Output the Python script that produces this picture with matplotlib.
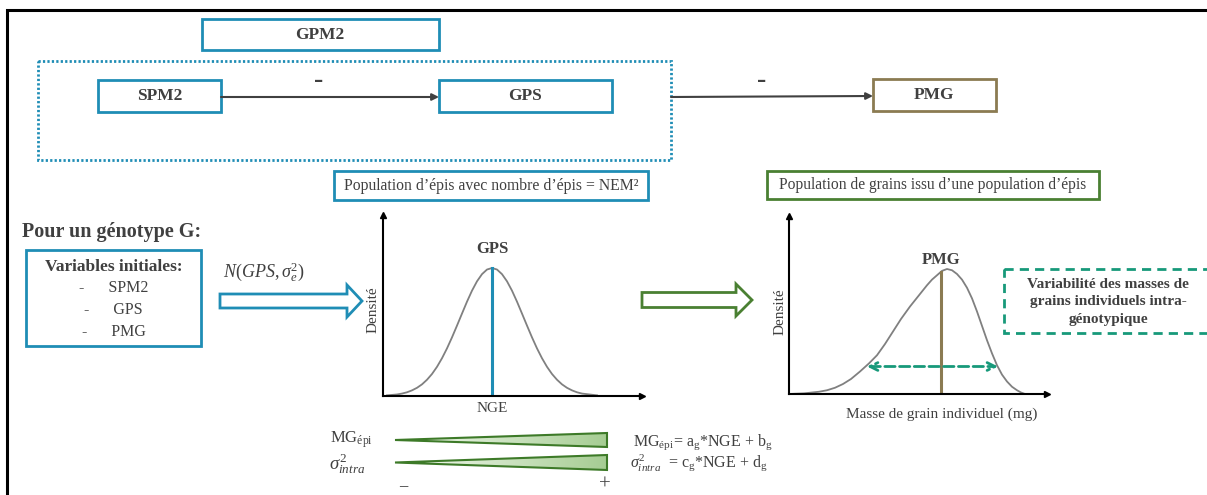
import matplotlib.pyplot as plt
import matplotlib.patches as patches
import matplotlib.colors as mcolors
import numpy as np

plt.rcParams['font.family'] = ['Liberation Serif', 'DejaVu Serif']
plt.rcParams['mathtext.fontset'] = 'custom'
plt.rcParams['mathtext.rm'] = 'Liberation Serif'
plt.rcParams['mathtext.it'] = 'Liberation Serif:italic'
plt.rcParams['mathtext.bf'] = 'Liberation Serif:bold'

# ---- data ----
# normal density of the number of grains per ear (NGE)
nge = [0.4, 1.4, 1.9, 2.4, 2.9, 3.4, 3.9, 4.4, 4.9, 5.4, 5.9, 6.4, 6.9, 7.4, 7.9, 8.4,
       8.9, 9.4, 9.9, 10.4, 10.9, 11.4, 11.9, 12.4, 12.9, 13.4, 13.9, 14.4, 14.9,
       15.4, 15.9, 16.4, 16.9, 17.4, 17.9, 18.4, 18.9, 19.4, 19.9, 21.4]
nge_density = [0.005, 0.012, 0.019, 0.029, 0.044, 0.064, 0.091, 0.127, 0.172, 0.228,
               0.295, 0.372, 0.458, 0.550, 0.644, 0.737, 0.823, 0.896, 0.952, 0.988,
               1.0, 0.988, 0.952, 0.896, 0.823, 0.737, 0.644, 0.550, 0.458, 0.372,
               0.295, 0.228, 0.172, 0.127, 0.091, 0.064, 0.044, 0.029, 0.019, 0.005]
gps_mean = 10.9

# skewed density of the individual grain mass
grain_mass = [0.0, 1.5, 3.0, 3.8, 4.6, 5.4, 6.2, 7.1, 8.0, 8.8, 9.6, 10.4, 11.2, 12.1,
              13.0, 13.8, 14.3, 14.8, 15.3, 15.8, 16.3, 16.8, 17.3, 17.8, 18.3, 18.8,
              19.3, 19.8, 20.3, 20.8, 21.3, 21.8, 22.3, 22.8, 23.2, 23.6]
grain_density = [0.0, 0.005, 0.018, 0.03, 0.05, 0.08, 0.12, 0.18, 0.245, 0.31, 0.40,
                 0.50, 0.60, 0.70, 0.79, 0.87, 0.915, 0.95, 0.985, 1.0, 0.99, 0.96,
                 0.915, 0.85, 0.765, 0.66, 0.545, 0.43, 0.325, 0.23, 0.155, 0.10,
                 0.058, 0.03, 0.012, 0.0]
pmg_mean = 15.2
pmg_top = 0.976
spread = [7.8, 20.9]
spread_level = 0.22

top_boxes = ['GPM2', 'SPM2', 'GPS', 'PMG']
initial_vars = ['SPM2', 'GPS', 'PMG']
variability_text = 'Variabilité des masses de\ngrains individuels intra-\ngénotypique'

# ---- styles ----
W, H = 1207, 495
BLUE = '#1f8db5'
GREEN = '#4a8032'
TEAL = '#17997a'
BROWN = '#8b7b52'
TXT = '#404040'

fig = plt.figure(figsize=(W / 100, H / 100), dpi=100)
ax = fig.add_axes([0, 0, 1, 1])
ax.axis('off')


def box(x0, y0, x1, y1, color, **kw):
    r = patches.Rectangle((x0, y0), x1 - x0, y1 - y0, fill=False, ec=color, lw=2, **kw)
    ax.add_patch(r)
    return r


# outer frame (top and left only visible)
ax.plot([7, 7, W], [H, 10, 10], color='black', lw=2.2, solid_joinstyle='miter')

# top schema
box(38, 61, 671, 160, BLUE, ls=(0, (0.8, 0.8)))
box(202, 19, 439, 50, BLUE)
box(98, 80, 221, 112, BLUE)
box(439, 80, 612, 112, BLUE)
box(873, 79, 996, 111, BROWN)
for label, cx, cy in zip(top_boxes, [320, 160, 525, 934], [35, 96, 96, 95]):
    ax.text(cx, cy, label, ha='center', va='center', fontsize=12.5,
            fontweight='bold', color=TXT)

arrow_kw = dict(arrowstyle='-|>', color=TXT, lw=1.5, mutation_scale=10,
                shrinkA=0, shrinkB=0)
ax.annotate('', xy=(439, 97), xytext=(221, 97), arrowprops=arrow_kw)
ax.annotate('', xy=(873, 96), xytext=(671, 97), arrowprops=arrow_kw)
for mx in (319, 762):
    ax.text(mx, 80, '-', ha='center', va='center', fontsize=20,
            fontweight='bold', color=TXT)

# left block
ax.text(22, 232, 'Pour un génotype G:', ha='left', va='center', fontsize=14.5,
        fontweight='bold', color=TXT)
box(26, 250, 201, 346, BLUE)
ax.text(113.5, 267, 'Variables initiales:', ha='center', va='center', fontsize=12.5,
        fontweight='bold', color=TXT)
for i, name in enumerate(initial_vars):
    ax.text(113.5, 288 + 22 * i, '-      ' + name, ha='center', va='center',
            fontsize=11.5, color=TXT)

ax.text(223, 272, r'$N(GPS,\sigma_e^2)$', ha='left', va='center', fontsize=13,
        color=TXT)
ax.add_patch(patches.FancyArrow(220, 301, 142, 0, width=14, head_width=32,
                                head_length=15, length_includes_head=True,
                                fc='white', ec=BLUE, lw=2))
ax.add_patch(patches.FancyArrow(642, 300, 110, 0, width=15, head_width=32,
                                head_length=16, length_includes_head=True,
                                fc='white', ec=GREEN, lw=2))

# title boxes above the densities
box(334, 171, 648, 200, BLUE)
ax.text(491, 186, 'Population d’épis avec nombre d’épis = NEM²', ha='center',
        va='center', fontsize=11.3, color=TXT)
box(767, 171, 1099, 199, GREEN)
ax.text(933, 185, 'Population de grains issu d’une population d’épis', ha='center',
        va='center', fontsize=11.2, color=TXT)

# variability box
box(1004, 269, 1260, 333, TEAL, ls=(0, (3.3, 2.2)))
ax.text(1108, 302, variability_text, ha='center', va='center', fontsize=11,
        fontweight='bold', color=TXT, linespacing=1.45)

# gradient wedges
cmap = mcolors.LinearSegmentedColormap.from_list('wedge', ['#f7fbf4', '#a6cd93'])
grad = np.linspace(0, 1, 256).reshape(1, -1)
for yc, hw in ((440, 7), (462.5, 7.5)):
    poly = patches.Polygon([(395, yc), (607, yc - hw), (607, yc + hw)], closed=True,
                           fc='none', ec='#3d7a28', lw=1.5, zorder=3)
    ax.add_patch(poly)
    im = ax.imshow(grad, cmap=cmap, extent=(395, 607, yc + hw, yc - hw),
                   aspect='auto', zorder=2)
    im.set_clip_path(poly)

ax.text(330, 440, r'MG$_{\mathrm{épi}}$', ha='left', va='center', fontsize=12,
        color=TXT)
ax.text(329, 464, r'$\sigma^2_{intra}$', ha='left', va='center', fontsize=13.5,
        color=TXT)
ax.text(633, 442, r'MG$_{\mathrm{épi}}$= a$_{\mathrm{g}}$*NGE + b$_{\mathrm{g}}$',
        ha='left', va='center', fontsize=11.5, color=TXT)
ax.text(630, 463, r'$\sigma^2_{intra}$  = c$_{\mathrm{g}}$*NGE + d$_{\mathrm{g}}$',
        ha='left', va='center', fontsize=11.5, color=TXT)
ax.text(403, 486, '–', ha='center', va='center', fontsize=12, fontweight='bold',
        color=TXT)
ax.text(605, 485, '+', ha='center', va='center', fontsize=15, color=TXT)

ax.set_xlim(0, W)
ax.set_ylim(H, 0)


# density plots
def density_axes(left, top, right, bottom):
    a = fig.add_axes([left / W, 1 - bottom / H, (right - left) / W, (bottom - top) / H])
    a.patch.set_alpha(0)
    for s in ('top', 'right'):
        a.spines[s].set_visible(False)
    for s in ('left', 'bottom'):
        a.spines[s].set_linewidth(1.5)
    a.set_xticks([])
    a.set_yticks([])
    a.plot(1, 0, '>k', ms=5, transform=a.transAxes, clip_on=False)
    a.plot(0, 1, '^k', ms=5, transform=a.transAxes, clip_on=False)
    return a


ax1 = density_axes(383, 215, 642, 396)
ax1.set_xlim(0, 25.9)
ax1.set_ylim(0, 181 / 128)
ax1.plot(nge, nge_density, color='#808080', lw=1.3)
ax1.plot([gps_mean, gps_mean], [0, 1.0], color=BLUE, lw=2.2)
ax1.annotate('GPS', (gps_mean, 1.0), xytext=(0, 11), textcoords='offset points',
             ha='center', va='baseline', fontsize=12, fontweight='bold', color=TXT)
ax1.set_xlabel('NGE', fontsize=11, color=TXT)
ax1.set_ylabel('Densité', fontsize=11, color=TXT)
ax1.xaxis.set_label_coords(0.421, -0.035)
ax1.yaxis.set_label_coords(-0.012, 0.475)

ax2 = density_axes(789, 216, 1047, 394)
ax2.set_xlim(0, 25.8)
ax2.set_ylim(0, 178 / 125)
ax2.plot(grain_mass, grain_density, color='#808080', lw=1.3)
ax2.plot([pmg_mean, pmg_mean], [0, pmg_top], color=BROWN, lw=2.2)
ax2.annotate('PMG', (pmg_mean, pmg_top), xytext=(0, 5.5), textcoords='offset points',
             ha='center', va='baseline', fontsize=12, fontweight='bold', color=TXT)
ax2.annotate('', xy=(spread[1], spread_level), xytext=(spread[0], spread_level),
             arrowprops=dict(arrowstyle='<->', color=TEAL, lw=2, ls='--',
                             mutation_scale=14, shrinkA=0, shrinkB=0))
ax2.set_xlabel('Masse de grain individuel (mg)', fontsize=11, color=TXT)
ax2.set_ylabel('Densité', fontsize=11, color=TXT)
ax2.xaxis.set_label_coords(0.593, -0.078)
ax2.yaxis.set_label_coords(-0.008, 0.46)

fig.savefig('out.png', dpi=100)
